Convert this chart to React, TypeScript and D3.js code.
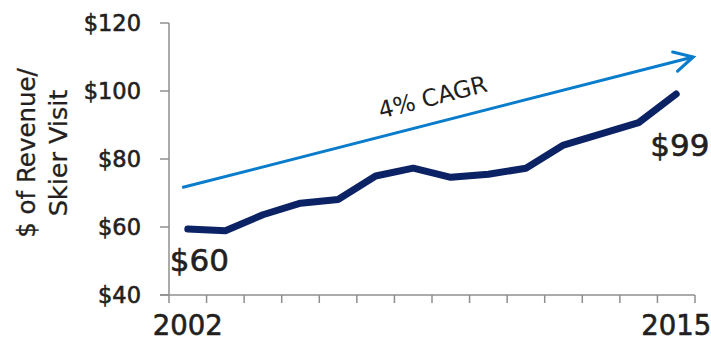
import React from "react";
import * as d3 from "d3";

const years = [2002, 2003, 2004, 2005, 2006, 2007, 2008, 2009, 2010, 2011, 2012, 2013, 2014, 2015];
const revenue = [59.4, 58.9, 63.6, 67.0, 68.1, 75.0, 77.3, 74.6, 75.5, 77.3, 84.1, 87.4, 90.7, 99.1];
const yTicks = [40, 60, 80, 100, 120];
const xLabelYears = [2002, 2015];
const arrowYears = [2001.85, 2015.45];
const arrowValues = [71.6, 110];
const arrowLabel = "4% CAGR";
const endLabels = [
  { year: 2002, text: "$60" },
  { year: 2015, text: "$99" },
];
const yTitle = ["$ of Revenue/", "Skier Visit"];

const W = 711;
const H = 341;
const FONT = "'DejaVu Sans', 'Open Sans', sans-serif";
const TEXT = "#231f20";
const NAVY = "#0b2265";
const BLUE = "#0a7ccc";
const AXIS = "#8f8f8f";

export default function App() {
  const x = d3.scaleBand<number>().domain(years).range([169, 695]).paddingInner(0).paddingOuter(0);
  const bw = x.bandwidth();
  const xc = (yr: number) => (x(yr) as number) + bw / 2;
  const xl = d3.scaleLinear().domain([2002, 2015]).range([xc(2002), xc(2015)]);
  const y = d3.scaleLinear().domain([40, 120]).range([295, 23]);

  const line = d3
    .line<number>()
    .x((_, i) => xc(years[i]))
    .y((v) => y(v));

  const boundaries = years.map((yr) => x(yr) as number).concat([(x(2015) as number) + bw]);

  const ax0 = xl(arrowYears[0]);
  const ay0 = y(arrowValues[0]);
  const ax1 = xl(arrowYears[1]);
  const ay1 = y(arrowValues[1]);
  const ang = Math.atan2(ay1 - ay0, ax1 - ax0);
  const headLen = 21;
  const headAng = (28 * Math.PI) / 180;
  const h1 = [ax1 - headLen * Math.cos(ang - headAng), ay1 - headLen * Math.sin(ang - headAng)];
  const h2 = [ax1 - headLen * Math.cos(ang + headAng), ay1 - headLen * Math.sin(ang + headAng)];
  const angDeg = (ang * 180) / Math.PI;

  const labelX = 439;
  const arrowYAt = ay0 + (ay1 - ay0) * ((labelX - ax0) / (ax1 - ax0));

  const medium = { stroke: TEXT, strokeWidth: 0.6, paintOrder: "stroke" as const };

  return (
    <svg width={W} height={H} style={{ position: "absolute", left: 0, top: 0, background: "#fff" }} fontFamily={FONT}>
      {/* y axis */}
      <line x1={169} x2={169} y1={y(120)} y2={y(40)} stroke={AXIS} strokeWidth={1.5} />
      {yTicks.map((t) => (
        <g key={t}>
          <line x1={160} x2={169} y1={y(t)} y2={y(t)} stroke={AXIS} strokeWidth={1.5} />
          <text x={141} y={y(t)} dy="0.36em" textAnchor="end" fontSize={22.5} fill={TEXT} {...medium}>
            ${t}
          </text>
        </g>
      ))}
      {/* x axis */}
      <line x1={160} x2={boundaries[boundaries.length - 1]} y1={y(40)} y2={y(40)} stroke={AXIS} strokeWidth={1.5} />
      {boundaries.map((b, i) => (
        <line key={i} x1={b} x2={b} y1={y(40)} y2={y(40) + 8} stroke={AXIS} strokeWidth={1.5} />
      ))}
      {xLabelYears.map((yr) => (
        <text key={yr} x={xc(yr)} y={335} textAnchor="middle" fontSize={27.5} fill={TEXT} {...medium}>
          {yr}
        </text>
      ))}
      {/* y title */}
      <g transform="translate(0,153) rotate(-90)">
        <text x={0} y={35} textAnchor="middle" fontSize={24.5} fill={TEXT} stroke={TEXT} strokeWidth={0.3}>
          {yTitle[0]}
        </text>
        <text x={0} y={67} textAnchor="middle" fontSize={25.5} fill={TEXT} stroke={TEXT} strokeWidth={0.3}>
          {yTitle[1]}
        </text>
      </g>
      {/* arrow */}
      <line x1={ax0} y1={ay0} x2={ax1} y2={ay1} stroke={BLUE} strokeWidth={3} />
      <polyline
        points={`${h1[0]},${h1[1]} ${ax1},${ay1} ${h2[0]},${h2[1]}`}
        fill="none"
        stroke={BLUE}
        strokeWidth={3.2}
        strokeLinecap="round"
        strokeLinejoin="miter"
      />
      <text
        transform={`translate(${labelX},${arrowYAt}) rotate(${angDeg})`}
        x={0}
        y={-17.5}
        textAnchor="middle"
        fontSize={23.5}
        fill={TEXT}
      >
        {arrowLabel}
      </text>
      {/* data line */}
      <path d={line(revenue) || ""} fill="none" stroke={NAVY} strokeWidth={7} strokeLinejoin="round" strokeLinecap="round" />
      {/* end labels */}
      <text x={xc(endLabels[0].year) - 18} y={271} fontSize={31} fill={TEXT} {...medium}>
        {endLabels[0].text}
      </text>
      <text x={xc(endLabels[1].year) - 26} y={156} fontSize={31} fill={TEXT} {...medium}>
        {endLabels[1].text}
      </text>
    </svg>
  );
}
